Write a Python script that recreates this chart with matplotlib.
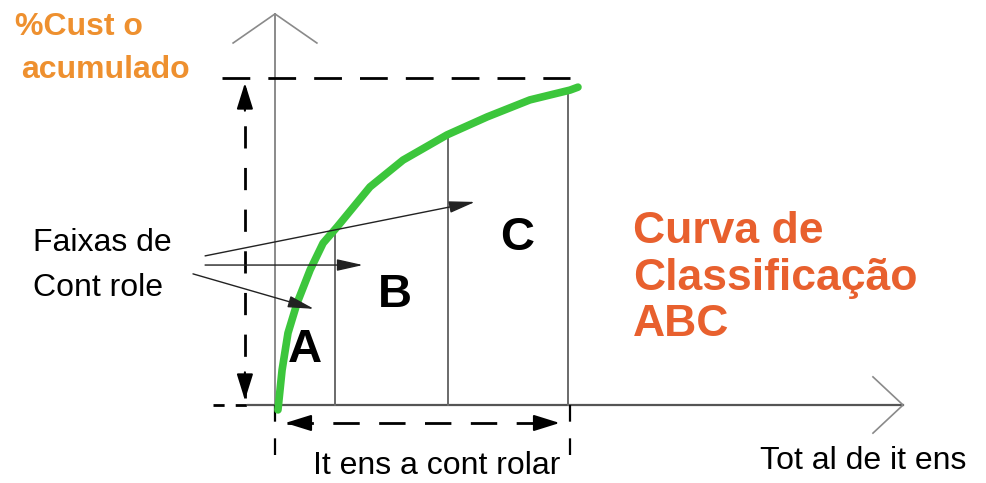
import numpy as np
import matplotlib.pyplot as plt

plt.rcParams['font.family'] = ['Liberation Sans', 'DejaVu Sans']
plt.rcParams['lines.scale_dashes'] = False

# curva ABC: % de itens x % do custo acumulado
itens_pct = [1.0, 2.4, 4.4, 7.5, 11.9, 16.3, 21.0, 32.2, 43.4, 58.3, 71.9, 86.4, 100, 102.7]
custo_pct = [-1.5, 10.7, 22.0, 31.2, 41.3, 49.5, 54.4, 66.7, 74.9, 82.6, 88.1, 93.3, 96.3, 97.2]

# limites das faixas A, B, C (% de itens)
faixas_x = [20.3, 58.6, 99.3]
faixas_nomes = ['A', 'B', 'C']
faixas_txt_x = [10.2, 40.7, 82]
faixas_txt_y = [16.8, 33.6, 51.0]

curva_cor = '#3cc63c'
laranja = '#ee902f'
vermelho = '#e8602e'
cinza = '#6a6a6a'

fig = plt.figure(figsize=(9.87, 4.83), dpi=100)
ax = fig.add_axes([0, 0, 1, 1])
# 1 unidade = 2.95 px em x e 3.27 px em y, origem no pixel (275, 405)
ax.set_xlim(-275 / 2.95, (987 - 275) / 2.95)
ax.set_ylim(-(483 - 405) / 3.27, 405 / 3.27)
ax.axis('off')

# eixos com seta aberta
ax.plot([0, 0], [0, 119.6], color='#8a8a8a', lw=1.4)
ax.plot([-14.2, 0, 14.2], [110.7, 119.6, 110.7], color='#8a8a8a', lw=1.2)
ax.plot([-9.2, 212.9], [0, 0], color='#555555', lw=1.6)
ax.plot([202.7, 212.9, 202.7], [8.6, 0, -8.6], color='#8a8a8a', lw=1.2)

# linhas tracejadas
dash = dict(color='black', lw=2.0, dashes=[20, 13])
ax.plot([-18, 100], [100, 100], **dash)
ax.plot([-21, -9.2], [0, 0], color='black', lw=2.0, dashes=[8, 8])
ax.plot([-10.2, -10.2], [2, 97], color='black', lw=2.0, dashes=[16, 14])
ax.plot([4, 96], [-5.5, -5.5], color='black', lw=2.0, dashes=[19, 14])
ax.plot([0, 0], [0, -17], color='black', lw=1.6, dashes=[12, 12])
ax.plot([100, 100], [0, -18], color='black', lw=1.6, dashes=[12, 12])

# pontas das setas tracejadas
head = dict(arrowstyle='-|>,head_length=0.8,head_width=0.25', color='black',
            lw=1.5, mutation_scale=20, shrinkA=0, shrinkB=0)
ax.annotate('', xy=(-10.2, 98.5), xytext=(-10.2, 90), arrowprops=head)
ax.annotate('', xy=(-10.2, 1.5), xytext=(-10.2, 10), arrowprops=head)
ax.annotate('', xy=(3.5, -5.5), xytext=(10, -5.5), arrowprops=head)
ax.annotate('', xy=(96.5, -5.5), xytext=(90, -5.5), arrowprops=head)

# separadores das faixas
for fx in faixas_x:
    ax.plot([fx, fx], [0, np.interp(fx, itens_pct, custo_pct)], color=cinza, lw=1.4)

# curva
ax.plot(itens_pct, custo_pct, color=curva_cor, lw=5.5, solid_capstyle='round',
        solid_joinstyle='round')

for nome, tx, ty in zip(faixas_nomes, faixas_txt_x, faixas_txt_y):
    ax.text(tx, ty, nome, fontsize=34, fontweight='bold', ha='center', va='center')

# setas "Faixas de Controle"
seta = dict(arrowstyle='-|>,head_length=0.8,head_width=0.18', color='#222222',
            lw=1.0, mutation_scale=20, shrinkA=0, shrinkB=0)
ax.annotate('', xy=(67.8, 62.1), xytext=(-23.7, 45.6), arrowprops=seta)
ax.annotate('', xy=(29.8, 42.8), xytext=(-23.7, 42.8), arrowprops=seta)
ax.annotate('', xy=(13.2, 29.4), xytext=(-27.8, 40.1), arrowprops=seta)

ax.text(-82, 49.5, 'Faixas de', fontsize=23, ha='left', va='center')
ax.text(-82, 35.8, 'Cont role', fontsize=23, ha='left', va='center')

ax.text(-88, 115.6, '%Cust o', fontsize=23, fontweight='bold', color=laranja,
        ha='left', va='center')
ax.text(-86, 102.4, 'acumulado', fontsize=23, fontweight='bold', color=laranja,
        ha='left', va='center')

ax.text(121.4, 38.8, 'Curva de\nClassificação\nABC', fontsize=32, fontweight='bold',
        color=vermelho, ha='left', va='center', linespacing=1.18)

ax.text(54.9, -18.6, 'It ens a cont rolar', fontsize=23, ha='center', va='center')
ax.text(164.4, -17.2, 'Tot al de it ens', fontsize=23, ha='left', va='center')

fig.savefig('out.png', dpi=100)
